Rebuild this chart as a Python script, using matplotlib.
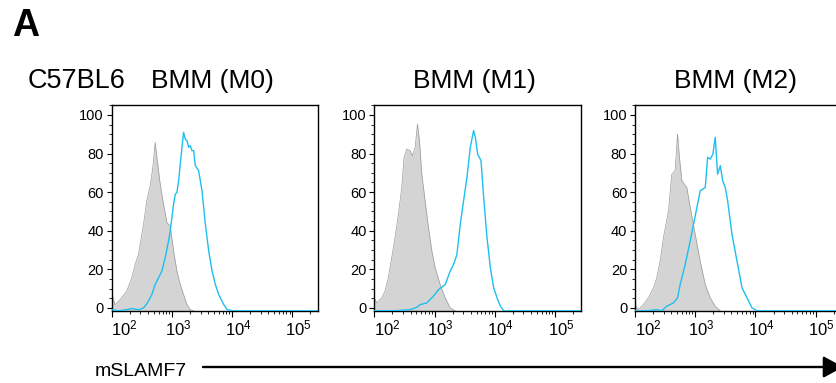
import numpy as np
import matplotlib
matplotlib.use("Agg")
import matplotlib.pyplot as plt
from matplotlib.ticker import LogLocator, NullFormatter, MultipleLocator
from matplotlib.transforms import ScaledTranslation

plt.rcParams['font.family'] = 'Liberation Sans'
plt.rcParams['mathtext.fontset'] = 'custom'
plt.rcParams['mathtext.rm'] = 'Liberation Sans'
plt.rcParams['mathtext.it'] = 'Liberation Sans:italic'
plt.rcParams['mathtext.bf'] = 'Liberation Sans:bold'

# histogram outlines: log10(mSLAMF7 intensity) vs % of max
titles = ['BMM (M0)', 'BMM (M1)', 'BMM (M2)']

m0_iso_log = [2.000, 2.056, 2.139, 2.250, 2.333, 2.389, 2.444, 2.472, 2.528, 2.583, 2.639, 2.683,
              2.722, 2.750, 2.806, 2.861, 2.917, 2.972, 3.028, 3.083, 3.139, 3.194, 3.250, 3.306, 3.361]
m0_iso_pct = [7.8, 1.7, 4.3, 8.7, 15.6, 22.5, 27.7, 32.9, 43.3, 55.5, 63.3, 72.8,
              85.8, 78.0, 64.1, 53.7, 44.2, 42.5, 29.5, 19.1, 12.1, 6.9, 1.7, -0.9, -1.5]
m0_ab_log = [2.000, 2.111, 2.250, 2.333, 2.444, 2.528, 2.583, 2.667, 2.722, 2.778, 2.833, 2.889,
             2.944, 2.972, 3.000, 3.028, 3.056, 3.083, 3.111, 3.139, 3.167, 3.194, 3.222, 3.250,
             3.278, 3.306, 3.333, 3.361, 3.389, 3.444, 3.500, 3.556, 3.611, 3.667, 3.722, 3.778,
             3.861, 3.917, 4.028, 5.450]
m0_ab_pct = [-0.9, -1.5, -0.9, -0.3, -1.0, 0.0, 2.1, 6.9, 12.1, 15.6, 19.1, 26.0,
             34.7, 39.9, 46.8, 53.7, 58.9, 59.8, 65.9, 74.5, 83.2, 91.0, 87.5, 86.7,
             83.2, 84.1, 81.5, 81.5, 73.7, 71.1, 60.7, 43.3, 29.5, 19.1, 12.1, 6.9,
             1.7, -0.9, -1.5, -1.5]

m1_iso_log = [2.000, 2.039, 2.122, 2.178, 2.233, 2.289, 2.344, 2.400, 2.456, 2.494, 2.539, 2.594,
              2.633, 2.678, 2.717, 2.750, 2.789, 2.844, 2.900, 2.956, 3.011, 3.094, 3.178, 3.261, 3.344]
m1_iso_pct = [5.2, 2.6, 5.2, 8.7, 15.6, 26.0, 36.4, 48.5, 62.4, 78.0, 82.3, 81.5,
              78.9, 83.2, 95.3, 86.7, 69.3, 55.5, 41.6, 29.5, 20.8, 12.1, 5.2, 0.0, -1.5]
m1_ab_log = [2.000, 2.372, 2.594, 2.706, 2.761, 2.872, 2.983, 3.067, 3.178, 3.261, 3.317, 3.372,
             3.428, 3.483, 3.539, 3.594, 3.650, 3.678, 3.717, 3.772, 3.817, 3.872, 3.928, 3.983,
             4.039, 4.094, 4.150, 5.450]
m1_ab_pct = [-1.5, -1.4, -0.9, 0.3, 1.7, 2.6, 6.1, 9.5, 12.1, 19.1, 22.5, 27.7,
             43.3, 55.5, 67.6, 83.2, 91.9, 88.4, 79.7, 76.3, 57.2, 36.4, 20.8, 10.4,
             5.2, 0.9, -1.5, -1.5]

m2_iso_log = [2.000, 2.056, 2.139, 2.222, 2.306, 2.361, 2.417, 2.472, 2.556, 2.611, 2.667, 2.706,
              2.733, 2.778, 2.861, 2.917, 3.000, 3.083, 3.167, 3.250, 3.333, 3.417]
m2_iso_pct = [1.7, -0.9, 1.7, 5.2, 10.4, 15.6, 24.3, 36.4, 50.3, 69.3, 71.1, 90.1,
              79.7, 65.9, 62.4, 52.0, 38.1, 24.3, 12.1, 5.2, 0.9, -1.5]
m2_ab_log = [2.000, 2.222, 2.361, 2.444, 2.528, 2.639, 2.706, 2.750, 2.833, 2.917, 2.972, 3.028,
             3.083, 3.167, 3.206, 3.250, 3.294, 3.333, 3.372, 3.417, 3.456, 3.500, 3.539, 3.611,
             3.694, 3.778, 3.861, 3.944, 4.028, 5.450]
m2_ab_pct = [-1.5, -1.4, -0.9, -1.5, 0.9, 2.6, 5.2, 12.1, 22.5, 34.7, 43.3, 52.0,
             60.7, 62.4, 78.0, 77.1, 79.7, 88.4, 69.3, 73.7, 65.9, 62.4, 55.5, 38.1,
             24.3, 10.4, 5.2, 0.0, -1.5, -1.5]

iso_log = [m0_iso_log, m1_iso_log, m2_iso_log]
iso_pct = [m0_iso_pct, m1_iso_pct, m2_iso_pct]
ab_log = [m0_ab_log, m1_ab_log, m2_ab_log]
ab_pct = [m0_ab_pct, m1_ab_pct, m2_ab_pct]

x_ticks = [1e2, 1e3, 1e4, 1e5]
x_ticklabels = [r'$10^{2}$', r'$10^{3}$', r'$10^{4}$', r'$10^{5}$']
y_ticks = [0, 20, 40, 60, 80, 100]

W, H = 836, 383
fig = plt.figure(figsize=(W / 100, H / 100), dpi=100)

# panel boxes in pixels (left, right)
lefts = [111.7, 374.3, 635.0]
width = 206.5
top, bottom = 104.5, 311.0

ymin, ymax = -1.6, 105.4
blue = '#1cbff0'

axes = []
for i in range(3):
    ax = fig.add_axes([lefts[i] / W, 1 - bottom / H, width / W, (bottom - top) / H])
    axes.append(ax)
    gx = 10 ** np.array(iso_log[i])
    gy = np.array(iso_pct[i])
    ax.fill_between(gx, gy, ymin, color='#d4d4d4', lw=0)
    ax.plot(gx, gy, color='#9a9a9a', lw=0.5)
    ax.plot(10 ** np.array(ab_log[i]), ab_pct[i], color=blue, lw=1.0, zorder=3)

    ax.set_xscale('log')
    ax.set_xlim(1e2, 10 ** 5.43)
    ax.set_ylim(ymin, ymax)
    ax.set_xticks(x_ticks)
    ax.set_xticklabels(x_ticklabels)
    ax.xaxis.set_minor_locator(LogLocator(base=10, subs=np.arange(2, 10)))
    ax.xaxis.set_minor_formatter(NullFormatter())
    ax.set_yticks(y_ticks)
    ax.yaxis.set_minor_locator(MultipleLocator(5))
    ax.tick_params(axis='y', which='major', length=3.6, width=0.8, pad=2, labelsize=10.5)
    ax.tick_params(axis='y', which='minor', length=2.0, width=0.6)
    ax.tick_params(axis='x', which='major', length=4.5, width=0.8, pad=1, labelsize=12)
    ax.tick_params(axis='x', which='minor', length=2.4, width=0.6)
    for s in ax.spines.values():
        s.set_linewidth(1.0)

    for lab, dx in zip(ax.get_xticklabels(), [13, 6, 6, 6]):
        lab.set_transform(lab.get_transform() + ScaledTranslation(dx / 100, 0, fig.dpi_scale_trans))

    fig.text((lefts[i] + width / 2 - 3) / W, 1 - 88 / H, titles[i], ha='center', va='baseline', fontsize=19)

fig.text(28 / W, 1 - 88 / H, 'C57BL6', ha='left', va='baseline', fontsize=19.5)
fig.text(12 / W, 1 - 36.5 / H, 'A', ha='left', va='baseline', fontsize=27, fontweight='bold')
fig.text(95 / W, 1 - 376 / H, 'mSLAMF7', ha='left', va='baseline', fontsize=14)

axes[0].annotate('', xy=(843 / W, 1 - 367 / H), xytext=(203 / W, 1 - 367 / H),
                 xycoords='figure fraction', textcoords='figure fraction',
                 arrowprops=dict(arrowstyle='-|>,head_length=0.6,head_width=0.33',
                                 mutation_scale=20, lw=1.7, color='black',
                                 shrinkA=0, shrinkB=0),
                 annotation_clip=False)

fig.savefig('out.png', dpi=100)
